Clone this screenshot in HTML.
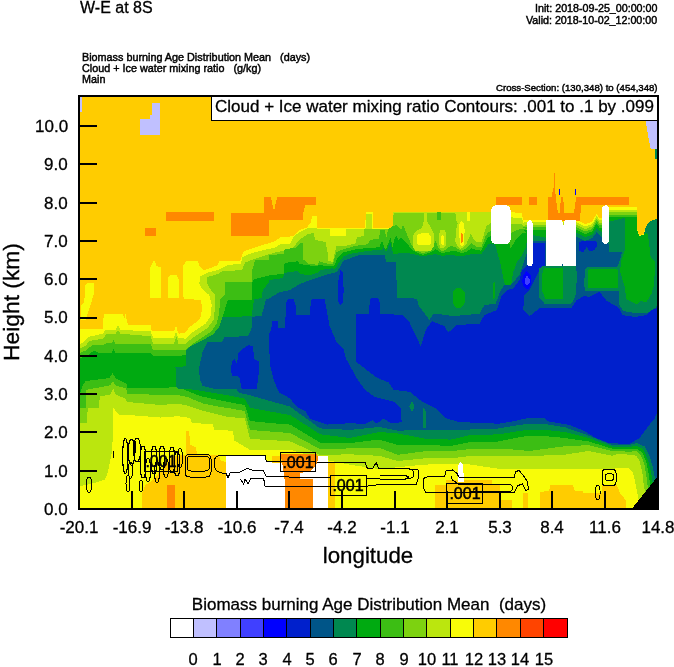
<!DOCTYPE html>
<html><head><meta charset="utf-8"><title>W-E at 8S</title>
<style>
html,body{margin:0;padding:0;background:#fff;}
body{width:674px;height:667px;position:relative;overflow:hidden;font-family:"Liberation Sans",sans-serif;color:#000;}
.t{position:absolute;white-space:pre;will-change:transform;font-family:"Liberation Sans",sans-serif;color:#000;-webkit-text-stroke:0.3px #000;}
</style></head><body>
<svg width="674" height="667" viewBox="0 0 674 667" style="position:absolute;left:0;top:0" shape-rendering="crispEdges">
<defs><clipPath id="cp"><rect x="79" y="96" width="578.6" height="413"/></clipPath></defs>
<g clip-path="url(#cp)">
<rect x="79" y="96" width="578.6" height="413" fill="#ffcc00"/>
<polygon fill="#f8fc08" points="78,328.7 103,328.7 103.7,313.7 123,313.7 124.2,320 125.5,313.7 126.7,320 128,325 150.5,325 151.7,331.2 174.2,331.2 176,325 177.5,331.2 179.2,333.7 185.5,332.5 189.2,327.5 195.5,322.5 200.5,317.5 202.2,307.5 200.5,300 184.2,298.7 183,295 183,266.2 186,261.2 198,261.2 200,267 204,270 212,267.5 218,265 219,261 240.5,260.5 242,255 244,251 255,247.5 275,241.2 280,237.5 293.7,236.2 300,230 307,227.5 311,222 312,215.5 317,215.5 317.5,227.5 365,227.5 366,212 372.5,212 373,227.5 393,227.5 393.7,212 491,211.5 510.5,212.3 522,212.8 522.8,220 577,220 585,224.3 592.2,221.6 596.7,213.5 599.4,218 602,218 609,218 609.3,207.2 637.2,207.2 637.2,228.8 639,235 643.5,234.2 645.3,228.8 648,223.4 652.5,219.8 658,219 658,510 78,510"/>
<polygon fill="#f8fc08" points="150,298 150,267.5 154.2,260 156.7,266.2 161,267 161,298"/>
<polygon fill="#f8fc08" points="167.5,298 167.5,278.7 170,275 176.7,275 179.2,280 179.2,298"/>
<polygon fill="#f8fc08" points="80.5,320 80.5,306 84.2,302.5 85.5,285 87.5,282.5 93.5,282.5 94.2,292.5 90.5,305 86.7,316 85.5,320"/>
<polygon fill="#bbe60e" points="78,345 84,342 88,337 103,333.7 105.5,330 115.5,330 118,325 120.5,330 150.5,331.2 153,337.5 174.2,337.5 176,331.2 178,337.5 185.5,338.7 190.5,333.7 198,328.7 205.5,323.7 210.5,316.2 211.7,305 209.2,295 203,290 199.2,283.7 200.5,276.2 208,272.5 218,270 228,265 240.5,263.7 242.5,257.5 250,253.7 258.7,251.2 275,247.5 281.2,243.5 290,243.8 293.5,236.7 300.7,231.4 307.8,228 311,228 317,228.5 365.5,228.5 366.5,214 372,214 372.5,228.5 392.5,228.5 393.2,213 393.6,212.2 491.2,212.2 510.3,217.3 521.8,218.1 523.6,223.1 527.2,223.1 522.8,222.3 577,222.3 585,226.6 592.2,223.9 596.7,215.8 599.4,220.3 602,220.3 609,220.3 609.3,209.5 637.2,209.5 637.2,231.1 639,237.3 643.5,236.5 645.3,231.1 648,225.7 652.5,222.1 658,221.3 660,512 640,512 638.8,500 637,491.2 634.4,478.7 632.6,471.6 629,468.4 618.3,468 612.4,468.8 588.7,468.8 565,468.8 543.6,468.8 529.3,468.8 512.7,468.8 498.5,468.8 470,464.5 451,463.7 425,464.6 397.8,467.2 379,469.2 350,464.7 320,458.8 305,454 290,449.8 270,450 250,449.8 234.5,440.5 232.7,430.7 214,430 213,424.5 192,422.7 190,418 178,416.2 160.5,417.5 128,415 119.2,415 113.3,408 112.3,450.6 108,471.4 105,479.7 90.5,484 81,486 78,488.7"/>
<polygon fill="#7dd210" points="78,349.5 85.5,346 89.2,341 103,338.7 106.7,333.7 115.5,333.7 118,330 120.5,333.7 150.5,336.2 153,343.7 174.2,343.7 176.2,336.2 178.5,343.7 185.5,343.7 191.7,338.7 200.5,332.5 208,327.5 213.5,320 215,308.5 215,295 209.7,288.2 206.7,282.2 207.5,277 218,274 222.5,271 242,270.2 245,262.5 258.7,257.5 275,252.5 282.5,251 290,254.5 292.7,248.3 298,241.2 302.5,237.6 307.8,234 314,233 315,240 325.6,242 327.4,251 328.3,261 333,262 334.5,254.5 336.3,245.6 342.8,246.5 355.4,243.6 357,237 363.6,236.2 364.3,229.5 373.2,229.2 379.2,229.2 393,229.2 393.6,212.5 491.2,212.5 510.3,224.4 521.8,224.4 524.5,226.2 527.2,226.2 522.8,224.8 577,224.8 585,229.1 592.2,226.4 596.7,218.3 599.4,222.8 602,222.8 609,222.8 609.3,212.0 637.2,212.0 637.2,233.6 639,239.8 643.5,239.0 645.3,233.6 648,228.2 652.5,224.6 658,223.8 660,512 647,512 646,494.8 644.1,487.7 642.4,473.4 639.7,461 636,455.6 629,454.7 618.3,453.8 612.4,455.8 588.7,451 565,454.6 543.6,455.5 529.3,455.8 512.7,455.8 498.5,455.8 470,456 451,458.3 425,458.3 397.8,461 379,455.8 350,454.3 320,455 305,448 290,441.4 270,440 250,439 244.7,418.2 228,417 218,414.5 203,410.7 188,405.7 178,403.7 160.5,405 127,402 126,399 115.5,394.4 113.2,388.4 110.2,394.4 99.7,396.5 99,407.7 87.7,408 87,423 78,423"/>
<polygon fill="#3cbe14" points="78,354 86.7,350 91.7,345.5 104.2,344.5 108,342.5 112,343.5 113.5,340 115,343.5 150.5,343.5 153,350 175.5,350 185.5,350 193,343.7 203,337 211.7,331.2 216.7,323.7 219.2,313 220,299.5 224.5,295 224.5,282.2 244.7,282.2 251.7,282.2 252.5,269.5 255,260.5 268.6,260.3 269.5,255 283.7,254 284.6,249 296,248 299.8,243.4 302.5,243.4 303.3,259.4 308.7,263.9 317.6,264.8 319.4,261.2 325.6,263.4 333,264 336.2,252 343,249.5 355.4,245.8 367.3,244.3 370.3,239.9 379.2,238.4 380,230 385,229.5 386,239 388,229.5 393,226 393.6,226.2 396.5,224.6 398.2,227.0 401.4,229.5 403.1,224.6 406.3,232.7 410.4,242.5 414.5,249.9 422.6,253.1 430.8,250.7 434.1,243.4 435.7,240.9 438.1,247.4 442.2,251.5 446.3,249.1 450.4,245.8 455.3,247.4 461.8,250.7 466.7,248.3 471.6,243.4 476.5,246.6 481.4,247.4 485.5,236.0 487.9,232.7 491.2,231.1 510.3,233.3 515.6,230.6 521.8,228.8 527.2,229.7 522.8,227.3 577,227.3 585,231.6 592.2,228.9 596.7,220.8 599.4,225.3 602,225.3 609,225.3 609.3,214.5 637.2,214.5 637.2,236.1 639,242.3 643.5,241.5 645.3,236.1 648,230.7 652.5,227.1 658,226.3 660,512 650,512 648.6,491.2 647.7,485.9 646,473.4 644.1,462.7 640.6,455.6 637,451.2 629,451.7 618.3,451.2 612.4,451 588.7,445.1 565,446.3 543.6,449 529.3,451 512.7,449.5 498.5,448.7 470,449 451,451.2 425,451.2 397.8,454.8 379,447.7 350,448.4 320,449.2 305,441 290,433 270,431.5 250,430 244.7,411 230.5,408.5 218,406.5 203,403.5 188,397.2 178,395 160.5,395 127.4,393.5 126,388.4 115.5,385.4 113.2,381 110,385.4 97.5,387.7 85.5,390 85.5,408 78,408"/>
<polygon fill="#00aa11" points="78,359 88,355 94.2,350.5 97.5,352.5 112,352.5 113.5,349 115,352.5 150.5,352.5 153,356.2 175.5,356.2 186.7,355 195.5,348.7 205.5,341.2 214.2,335 220.5,326.2 223,316.2 226,305 228,299.5 251.7,299.5 252.5,282.2 254,279.2 269.5,275.5 283.7,273.7 284.6,263 298,261.2 299.8,264 305,264.8 316,266.5 320,264.5 325.6,266.5 334,266 338,257 343.4,252.5 355.4,249.5 367.3,248 379.2,247.3 382.2,240.6 384.4,248 386,249.5 390.3,237.6 392.5,246.5 393.3,249.5 393.6,240.1 396.5,236.0 398.2,240.1 401.4,237.6 406.3,242.5 411.2,249.1 416.1,252.3 422.6,254.8 430.8,252.3 435.7,249.1 439.0,251.5 442.2,253.1 446.3,252.3 450.4,251.5 455.3,250.7 461.8,253.1 466.7,251.5 471.6,248.3 476.5,249.9 481.4,250.7 486.3,240.1 487.9,237.6 491.2,236.0 510.3,248.4 512.9,244.8 515.6,239.5 521.8,233.3 527.2,233.3 522.8,229.8 577,229.8 585,234.1 592.2,231.4 596.7,223.3 599.4,227.8 602,227.8 609,227.8 609.3,217.0 637.2,217.0 637.2,238.6 639,244.8 643.5,244.0 645.3,238.6 648,233.2 652.5,229.6 658,228.8 660,512 653,512 651.3,488.5 650,484.1 648.6,473.4 646,461 642.4,453 637,448.5 629,449.4 618.3,448.8 612.4,448.7 588.7,441.5 565,438 543.6,436 529.3,435.6 512.7,438.5 498.5,441.5 470,442 451,445.9 425,445 397.8,445 379,439.5 350,443.2 320,442.5 305,433.5 290,424.6 270,423 250,421 244.7,405.0 230.5,402.5 218,400.0 203,396.7 195.5,394.2 183,389.2 176.7,387 160.5,388 127.4,388.4 127.4,384 115.5,378 112.5,373.4 109.5,378 101.7,379 85.5,381 83,385 80,393 78,395"/>
<polygon fill="#008850" points="175.5,388 175.5,367.5 185.5,366.2 186,350 191,346 203,340 213.5,334 219.5,326.5 222.5,317.5 251.7,316 254,299.5 261.5,298 263,289.7 268.6,283 269.5,280 282.9,278 284.6,272.8 298,271 299.8,273.7 308.7,275.5 317.6,272.8 321,270 331.8,268.3 335,269 340,261 343.4,256.5 349.5,254 367.3,251 382.2,249.5 383.6,246.5 386,252.5 390.3,242 393.3,254 393.6,254.0 406.3,252.7 416.1,254.8 422.6,256.4 430.8,254.8 435.7,254.0 442.2,255.9 450.4,254.8 461.8,256.4 471.6,254.0 481.4,254.0 486.3,247.4 487.9,244.2 491.2,243.4 510.3,249 514,245 522,235 527,234 545.5,237.7 577,233 585,237.3 592.2,234.6 596.7,228 599.4,231 602,232 609.3,221.6 624.6,218 637.2,219 637.2,229.5 639,236 643.5,235 645.3,229.5 648,224 652.5,220.5 658,219.8 660,512 655.5,512 654,485.9 652.5,482.3 651.3,473.4 647.7,459.2 643.3,449.4 637,445.8 629,447 618.3,446.7 612.4,446.8 588.7,438 565,432 543.6,429.7 529.3,429.7 512.7,432 498.5,434.4 470,435 451,439.6 425,438.7 397.8,433.4 379,432 350,438 320,434.3 305,424.5 290,415 270,411.5 250,407.8 244.7,398.7 233,396.2 218,393.7 203,391.2 195.5,390 185.5,388.7 178,388.7 175.5,386"/>
<polygon fill="#005588" points="199.8,378.8 199,368 202.5,352 207.5,341.5 222.5,341.5 224.7,337 248,336.2 251.7,328 252.5,316.7 261.5,316 266,299.5 270,298 280,292 290,290 300,284 307.8,281 325.6,275 337,272 343.4,260.7 361,254.5 385,255 386,262 396,262 397,297.5 417,298.7 418.2,305 429.5,320 433.2,313.7 447,315 452,316.2 479.5,313.7 484.5,305 495.7,303.7 500.7,290 504.5,285 512,283.7 519.5,275 519.5,275 524,262 527,252 529,241.3 545.5,241.3 577,237 585,241 592.2,238 596.7,232 599.4,235 602,237 609.3,245 609.3,252.2 622,252.2 622,266.6 619,291 619.2,304 622.8,311 635.4,313 646.2,311 651.6,306 658,304 660,512 657,512 655.4,480.5 654,473.4 653,468 649.5,455.6 645,446.7 637,443.1 629,445 618.3,445 612.4,445.1 588.7,435.6 565,427.3 543.6,423.7 529.3,423.7 512.7,426 498.5,428.5 470,429.5 451,429.8 425,429.8 397.8,430.7 379,427 350,429.9 320,428.4 305,417.5 290,406.6 270,401 250,395.2 239,393 236.3,388.5 213.1,388.5 202.5,385.9 199.8,378.8"/>
<polygon fill="#00aa11" points="495.1,244.0 497.8,253.8 501.0,266.2 503.5,278.7 504.9,284.9 511.2,284.9 512.9,273.3 516.5,262.7 521.8,255.5 525.4,248.4 527.2,239.5 527.2,233.3 521.8,233.3 515.6,239.5 512.9,244.8 510.3,248.4 510.3,244.0"/>
<polygon fill="#0020cc" points="231.8,361.8 234.5,359.2 237.2,364.5 238,353.8 241.6,349.4 248.8,345 253.2,346.7 254,359.2 258.5,361 258.5,375.2 256.8,388.5 241.6,388.5 239.8,378.8 237.2,376 232.7,376 231,371.6"/>
<polygon fill="#0020cc" points="268.7,335 271.2,330 272,321.2 277.5,321.2 278,327.5 285,327.5 286.2,302.5 288.7,298.7 293.7,298.7 295.5,305 296.2,315 309.5,315 311.2,300 313,298.7 324.7,299.5 327,312 329.5,325.6 336.6,342.2 343.7,349.3 346,358.8 358,380.2 365,389.7 374.6,396.8 393.6,401.6 400.7,408.7 401.6,421.7 396,423.5 390,422.5 383.7,418.7 379.3,421.7 376.2,423.7 372.5,420 365,424 349.7,423.2 326.8,424.6 319.6,422.2 310,418.6 305.2,410.8 298,407.8 289.6,398.2 278.8,392.2 275.8,385 273.7,380 270,365"/>
<polygon fill="#0020cc" points="356.2,313.7 368.7,313.7 370,300 372,297.5 378,297.5 380,303 380.5,313.7 402,315 409.5,322.5 418.2,340 420.7,346.7 425.7,330 432,321.2 444.5,326.2 448.2,332.5 457,325 479.5,323.7 484.5,315 497,310 502,295 507,290 513.2,288.7 519.5,280 522,270 527,265 533,243 545,242.5 545.5,266 539.5,270 529.5,290 524.5,295 523.2,310 529.5,316.2 540,308 571.5,308 576,300.8 585,295.4 588.6,297.2 599.4,291.8 606.6,300.8 619.2,308 622.8,315.2 635.4,317 646.2,315.2 651.6,309.8 658,308 658,412 656,415 654,420 650.4,423.6 645,430.7 639.7,437.8 632.6,442.3 630,443.5 618.3,443.5 607.7,442.7 595.8,438 584,430.9 569.7,425 548.3,421.4 543.6,417.8 529.3,417.8 512.7,421.4 498.5,423.7 470,422.5 457.7,421.7 445.8,418.2 436.3,408.7 422,401.6 410.2,392 393.6,389.7 388.8,382.6 377,377.8 367.5,370.7 355.6,361.2 355.6,340"/>
<polygon fill="#0020cc" points="337.5,300 338.5,280 340.5,270 342.5,272 343.7,290 343,303 340,305"/>
<polygon fill="#c0c0ff" points="152,103 160,103 160,135 140,135 140,119 150,119 150,115 152,115"/>
<polygon fill="#c0c0ff" points="79,96 82,96 82,112 79,112"/>
<polygon fill="#c0c0ff" points="645.6,120 658,120 658,149 650.7,149 648,135"/>
<polygon fill="#008850" points="654.5,149 658,149 658,160 655.5,159"/>
<polygon fill="#ff8800" points="166,212 214,212 214,221 166,221"/>
<polygon fill="#ff8800" points="145,228 156,228 156,235.5 145,235.5"/>
<polygon fill="#ff8800" points="231.3,212.6 264.4,212.6 264.4,197.3 270.8,197.3 274,211 277.2,197.3 316,197.3 316,205 305.2,205 303.4,212.6 303.4,220 268.7,220 268.7,235.5 231.3,235.5"/>
<polygon fill="#ff8800" points="495.7,197 522,197 522,204.5 495.7,204.5"/>
<polygon fill="#ff8800" points="528.5,197 536.5,197 536.5,205 528.5,205"/>
<polygon fill="#ff8800" points="548.2,197 551.5,197 553.5,188 554.2,173 554.8,173 555.6,197 557.8,212.5 560,212.5 560.8,197 563,197 564.5,212.5 574,212.5 576.3,197 629,197 629,204.8 581,204.8 580,220.6 548.2,220.6"/>
<polygon fill="#0000ff" points="559.3,188.7 560.4,188.7 560.4,195.4 559.3,195.4"/>
<polygon fill="#0000ff" points="575.3,188.7 576.4,188.7 576.4,195.4 575.3,195.4"/>
<polygon fill="#008850" points="609.3,221.6 624.6,218.0 637.2,218.9 637.2,229.7 639.0,236.0 643.5,235.1 645.3,228.8 648.0,223.4 652.5,219.8 659.6,218.9 659.6,302.6 655.1,308.0 648.0,312.5 635.4,313.4 625.5,310.1 621.9,300.8 620.1,290.9 585.0,290.9 584.1,284.6 585.0,269.3 587.7,266.6 617.4,266.6 620.1,259.4 621.9,252.2 609.3,252.2"/>
<polygon fill="#00aa11" points="624.6,218.0 637.2,218.9 637.2,229.7 639.0,236.0 643.5,235.1 646.2,232.4 648.0,234.2 650.7,257.6 655.1,261.2 654.2,284.6 651.6,293.6 646.2,302.6 640.8,300.8 637.2,304.4 626.4,299.0 624.6,286.4 620.1,272.0 621.0,261.2 624.6,250.4"/>
<polygon fill="#00aa11" points="588.9,269.3 617.0,269.3 618.3,270.5 618.3,286.9 617.0,288.2 588.9,288.2 587.7,286.9 587.7,270.5"/>
<polygon fill="#008850" points="539.1,268.4 543.6,265.7 576.0,265.7 576.9,275.6 576.0,293.6 573.3,300.8 570.6,303.5 544.5,303.5 539.1,297.2"/>
<polygon fill="#00aa11" points="544.5,267.5 562.5,267.5 562.5,299.0 545.4,299.0 541.8,290.0 541.8,275.6"/>
<polygon fill="#0020cc" points="578.7,242.3 585.0,240.5 595.8,240.5 597.6,245.0 594.0,250.4 589.5,251.3 586.8,246.8 583.2,252.2 578.7,250.4"/>
<polygon fill="#0000ff" points="523,276 526.5,271 530.5,275 531.5,283 528,289.5 524,287 522,282"/>
<polygon fill="#4040ff" points="524.5,279 527,275.8 529.5,279 529.5,283 527,285.5 524.8,283.5"/>
<polygon fill="#bbe60e" points="424.3,212.2 426.7,212.2 427.2,221.3 430.8,227.8 434.1,234.4 434.1,245.8 430.8,250.7 416.1,251.5 412.8,246.6 412.8,236.0 416.1,231.1 421.8,227.8 423.9,221.3"/>
<polygon fill="#f8fc08" points="416.9,235.2 422.6,232.7 428.4,232.7 430.8,236.8 430.8,243.4 429.2,245.0 417.7,245.0 416.9,242.5"/>
<polygon fill="#bbe60e" points="439.0,234.4 440.6,229.5 444.7,229.5 446.3,234.4 446.3,245.0 443.9,247.8 440.6,247.8 439.0,244.2"/>
<polygon fill="#f8fc08" points="441.4,236.0 442.6,234.9 443.9,236.8 443.9,244.2 442.6,245.3 441.4,244.2"/>
<polygon fill="#bbe60e" points="455.3,212.2 491.2,212.2 491.2,223.0 486.3,226.2 483.0,237.6 481.4,242.5 474.9,241.2 470.8,233.6 466.7,243.4 464.3,246.6 460.2,249.4 456.9,245.0 455.3,241.7 456.1,229.5 457.7,223.0 456.1,219.7"/>
<polygon fill="#f8fc08" points="459.4,224.6 461.0,221.3 463.4,222.1 464.6,229.5 464.3,243.4 462.6,246.1 460.5,245.0 459.4,237.6"/>
<polygon fill="#ff8800" points="461.2,233.6 462.0,232.4 462.6,234.4 462.6,241.7 461.8,243.7 461.2,241.7"/>
<polygon fill="#f8fc08" points="467.0,212.2 470.0,212.2 470.0,220.5 468.3,221.6 467.0,220.5"/>
<polygon fill="#3cbe14" points="437.3,212.2 440.6,212.2 440.6,220.0 437.3,220.0"/>
<polygon fill="#00aa11" points="453,292 456,288.4 461,288.4 464.6,292 464.6,303 461,308 456,308 453,303"/>
<polygon fill="#00aa11" points="492.8,283 494.7,282 494.7,298 492.8,299"/>
<polygon fill="#f8fc08" points="330,228.3 346,228.3 346,236 330,236"/>
<polygon fill="#008850" points="412,401 414.5,406.5 412,412.5 409.5,406.5"/>
<polygon fill="#008850" points="422.5,409 424,407.5 425.7,412 425.7,428 422.5,428"/>
<polygon fill="#ffffff" points="506.0,205.3 507.7,205.6 509.2,206.6 510.2,208.1 510.5,209.8 510.5,239.5 510.2,241.2 509.2,242.7 507.7,243.7 506.0,244.0 495.8,244.0 494.1,243.7 492.6,242.7 491.6,241.2 491.3,239.5 491.3,209.8 491.6,208.1 492.6,206.6 494.1,205.6 495.8,205.3"/>
<polygon fill="#ffffff" points="529.9,220.3 530.9,220.5 531.8,221.1 532.4,222.0 532.6,223.0 532.6,263.5 532.4,264.5 531.8,265.4 530.9,266.0 529.9,266.2 529.9,266.2 528.9,266.0 528.0,265.4 527.4,264.5 527.2,263.5 527.2,223.0 527.4,222.0 528.0,221.1 528.9,220.5 529.9,220.3"/>
<polygon fill="#ffffff" points="546,220 562,220 563.3,226 564.7,220 575.7,220 575.7,266 563.5,266 562.5,263.5 561.5,266 545.5,266 545.5,222"/>
<polygon fill="#ffffff" points="605.7,205.3 607.1,205.6 608.2,206.4 609.0,207.5 609.3,208.9 609.3,240.4 609.0,241.8 608.2,242.9 607.1,243.7 605.7,244.0 605.6,244.0 604.2,243.7 603.1,242.9 602.3,241.8 602.0,240.4 602.0,208.9 602.3,207.5 603.1,206.4 604.2,205.6 605.6,205.3"/>
<polygon fill="#ffcc00" points="141.7,509 142.5,492.5 145.5,485 153,480 173,456 185.5,455 186.2,431 189,431 190.5,445 195.5,447.5 198,455 219,455 221,461 226,462 226,509"/>
<polygon fill="#ff8800" points="166.5,485 175.4,485 175.4,509 166.5,509"/>
<polygon fill="#ffffff" points="226,454.7 265,454.7 266,462 284.5,462 284.5,509 226,509"/>
<polygon fill="#ffcc00" points="272,455.6 282,455.6 282,462.7 272,462.7"/>
<polygon fill="#ff8800" points="281.3,453.5 316.5,453.5 318.3,458.3 316.5,464.5 311.2,470.7 299.6,473.4 300.5,478.7 313,479 313,509 284.5,509 284.5,478.7 282.7,466.3 281.3,457.4"/>
<polygon fill="#ffffff" points="318.3,455.6 328,455.6 328,509 313,509 313,479 300.5,478.7 299.6,473.4 311.2,470.7 316.5,464.5 318.3,458.3"/>
<polygon fill="#ffcc00" points="328,462.7 335.2,462.7 335.2,509 328,509"/>
<polygon fill="#ffcc00" points="434.7,509 434.7,485 446.3,485 446.3,479.6 492,479.6 492,485 499.7,485 499.7,500 512,500 512,509"/>
<polygon fill="#ffffff" points="457.9,482.3 457.9,466 460.5,461.8 463,464 464,482.3"/>
<polygon fill="#ffcc00" points="522.5,492.5 527.5,492.5 527.5,509 522.5,509"/>
<polygon fill="#ffcc00" points="539.5,509 539.5,492 549,491 550.5,485 573,485 575,491 582.7,491 583,493 602.3,493 602.3,485 616.6,485 620,493 625.5,500 626.3,509"/>
<polygon fill="#000000" points="631.7,509 658,476 658,509"/>
</g>
<g clip-path="url(#cp)" fill="none" stroke="#000" stroke-width="1" shape-rendering="crispEdges">
<ellipse cx="125.3" cy="456" rx="2.6" ry="17.5"/>
<ellipse cx="131.5" cy="452" rx="3.2" ry="13"/>
<ellipse cx="130.5" cy="470" rx="2.2" ry="8"/>
<ellipse cx="137" cy="450" rx="3.5" ry="12"/>
<ellipse cx="134.5" cy="447" rx="1.5" ry="6"/>
<ellipse cx="128" cy="483.5" rx="2" ry="8"/>
<ellipse cx="89" cy="484.7" rx="2.6" ry="7.7"/>
<path d="M113,451 V458"/>
<ellipse cx="143" cy="462" rx="3" ry="16"/>
<ellipse cx="148" cy="470" rx="2.5" ry="12"/>
<ellipse cx="154" cy="460" rx="3" ry="14"/>
<ellipse cx="157" cy="472" rx="2.5" ry="11"/>
<ellipse cx="162" cy="458" rx="3" ry="12"/>
<ellipse cx="166" cy="468" rx="2.5" ry="10"/>
<ellipse cx="172" cy="460" rx="3" ry="13"/>
<ellipse cx="177" cy="464" rx="3" ry="12"/>
<ellipse cx="180" cy="458" rx="2.5" ry="10"/>
<ellipse cx="141" cy="486" rx="1.8" ry="6"/>
<path d="M190,454 H206 Q211,454 211,459 V472 Q211,477 206,477 H190 Q185,477 185,472 V459 Q185,454 190,454 Z"/>
<path d="M191,456 H205.3 Q209.3,456 209.3,460 V467 Q209.3,471 205.3,471 H191 Q187,471 187,467 V460 Q187,456 191,456 Z"/>
<path d="M222,455 Q214,455 214,463 Q214,472 222,473 L226,473 L228,478 L230,473 L240,472"/>
<path d="M222,455 L265,455 L266.2,461.5 L365,462.5 L367.5,468.7 L372.5,468.7 L376.2,462.5 L378.7,468.7 L406.7,468.7 Q414,468.7 414,474 Q414,479 406,479 L380,479"/>
<path d="M240,472 L247,468.5 L255,471 L263,470 L266,476 L300,477.5 L330,478 L367,478 L380,479"/>
<path d="M240,478.7 L243.7,484 L245,478.7 L248,484 L250.5,478.7 L263.7,478.7 L265,486.2 L330,486.2 L366,486.2"/>
<path d="M406.7,468.7 L418,470 Q420,477 416,484.5 L400,484.5 L380,484.5 L366,486.2"/>
<path d="M380,475 L404,475 L409,477 L404,479.5 L380,479.5"/>
<path d="M423.5,481 Q423,477.5 427,477 L444.5,476.6 L446,471 L452.5,470 L457,473.5 L458.7,477 L514,477.8 L515.7,471.6 L519,470.5 L522,474 L524.5,477 L527.5,482 L528.5,489 L526,491 L522.5,484 L518,485.5 L514,492.5 L447,492.8 L427,492.8 Q423,492 423.5,481 Z"/>
<path d="M452,476 Q450.5,480 455,481.5 L458,484.2 L508,484.2 Q513.5,485 513,488.5 Q512.5,491.5 508,491.5 L470,491.5"/>
<ellipse cx="597.8" cy="492.5" rx="2.3" ry="7.5"/>
<path d="M605.5,469.5 H612.5 Q616,469.5 616,473.0 V482.0 Q616,485.5 612.5,485.5 H605.5 Q602,485.5 602,482.0 V473.0 Q602,469.5 605.5,469.5 Z"/>
<path d="M608.0,473.8 H611.0 Q613.5,473.8 613.5,476.3 V478.0 Q613.5,480.5 611.0,480.5 H608.0 Q605.5,480.5 605.5,478.0 V476.3 Q605.5,473.8 608.0,473.8 Z"/>
</g>
<rect x="144" y="451.6" width="33.5" height="19.4" fill="none" stroke="#000" stroke-width="1"/>
<rect x="280.6" y="452.6" width="35.2" height="19.2" fill="none" stroke="#000" stroke-width="1"/>
<rect x="330.5" y="475.6" width="35.7" height="19.6" fill="none" stroke="#000" stroke-width="1"/>
<rect x="446.6" y="483.6" width="36.2" height="19.7" fill="none" stroke="#000" stroke-width="1"/>
<rect x="211.5" y="96" width="446" height="24" fill="#fff" stroke="#000" stroke-width="1"/>
<rect x="79" y="96" width="578.6" height="413" fill="none" stroke="#000" stroke-width="2"/>
<line x1="79" x2="97" y1="509.0" y2="509.0" stroke="#000" stroke-width="2"/>
<line x1="79" x2="97" y1="470.7" y2="470.7" stroke="#000" stroke-width="2"/>
<line x1="79" x2="97" y1="432.4" y2="432.4" stroke="#000" stroke-width="2"/>
<line x1="79" x2="97" y1="394.1" y2="394.1" stroke="#000" stroke-width="2"/>
<line x1="79" x2="97" y1="355.8" y2="355.8" stroke="#000" stroke-width="2"/>
<line x1="79" x2="97" y1="317.5" y2="317.5" stroke="#000" stroke-width="2"/>
<line x1="79" x2="97" y1="279.2" y2="279.2" stroke="#000" stroke-width="2"/>
<line x1="79" x2="97" y1="240.9" y2="240.9" stroke="#000" stroke-width="2"/>
<line x1="79" x2="97" y1="202.6" y2="202.6" stroke="#000" stroke-width="2"/>
<line x1="79" x2="97" y1="164.3" y2="164.3" stroke="#000" stroke-width="2"/>
<line x1="79" x2="97" y1="126.0" y2="126.0" stroke="#000" stroke-width="2"/>
<line x1="79.0" x2="79.0" y1="509" y2="491" stroke="#000" stroke-width="2"/>
<line x1="131.6" x2="131.6" y1="509" y2="491" stroke="#000" stroke-width="2"/>
<line x1="184.2" x2="184.2" y1="509" y2="491" stroke="#000" stroke-width="2"/>
<line x1="236.8" x2="236.8" y1="509" y2="491" stroke="#000" stroke-width="2"/>
<line x1="289.4" x2="289.4" y1="509" y2="491" stroke="#000" stroke-width="2"/>
<line x1="342.0" x2="342.0" y1="509" y2="491" stroke="#000" stroke-width="2"/>
<line x1="394.6" x2="394.6" y1="509" y2="491" stroke="#000" stroke-width="2"/>
<line x1="447.2" x2="447.2" y1="509" y2="491" stroke="#000" stroke-width="2"/>
<line x1="499.8" x2="499.8" y1="509" y2="491" stroke="#000" stroke-width="2"/>
<line x1="552.4" x2="552.4" y1="509" y2="491" stroke="#000" stroke-width="2"/>
<line x1="605.0" x2="605.0" y1="509" y2="491" stroke="#000" stroke-width="2"/>
<line x1="657.6" x2="657.6" y1="509" y2="491" stroke="#000" stroke-width="2"/>
<rect x="170.00" y="618" width="23.35" height="19.5" fill="#ffffff" stroke="#000" stroke-width="1"/>
<rect x="193.35" y="618" width="23.35" height="19.5" fill="#c0c0ff" stroke="#000" stroke-width="1"/>
<rect x="216.71" y="618" width="23.35" height="19.5" fill="#8080ff" stroke="#000" stroke-width="1"/>
<rect x="240.06" y="618" width="23.35" height="19.5" fill="#4040ff" stroke="#000" stroke-width="1"/>
<rect x="263.41" y="618" width="23.35" height="19.5" fill="#0000ff" stroke="#000" stroke-width="1"/>
<rect x="286.76" y="618" width="23.35" height="19.5" fill="#0020cc" stroke="#000" stroke-width="1"/>
<rect x="310.12" y="618" width="23.35" height="19.5" fill="#005588" stroke="#000" stroke-width="1"/>
<rect x="333.47" y="618" width="23.35" height="19.5" fill="#008850" stroke="#000" stroke-width="1"/>
<rect x="356.82" y="618" width="23.35" height="19.5" fill="#00aa11" stroke="#000" stroke-width="1"/>
<rect x="380.18" y="618" width="23.35" height="19.5" fill="#3cbe14" stroke="#000" stroke-width="1"/>
<rect x="403.53" y="618" width="23.35" height="19.5" fill="#7dd210" stroke="#000" stroke-width="1"/>
<rect x="426.88" y="618" width="23.35" height="19.5" fill="#bbe60e" stroke="#000" stroke-width="1"/>
<rect x="450.24" y="618" width="23.35" height="19.5" fill="#f8fc08" stroke="#000" stroke-width="1"/>
<rect x="473.59" y="618" width="23.35" height="19.5" fill="#ffcc00" stroke="#000" stroke-width="1"/>
<rect x="496.94" y="618" width="23.35" height="19.5" fill="#ff8800" stroke="#000" stroke-width="1"/>
<rect x="520.29" y="618" width="23.35" height="19.5" fill="#ff4400" stroke="#000" stroke-width="1"/>
<rect x="543.65" y="618" width="23.35" height="19.5" fill="#ff0000" stroke="#000" stroke-width="1"/>
</svg>
<div class="t" style="left:79.5px;top:-1.3px;font-size:16px;line-height:18.38px;">W-E at 8S</div>
<div class="t" style="right:17px;top:1.8px;font-size:10.7px;line-height:12.29px;-webkit-text-stroke:0.45px #000;">Init: 2018-09-25_00:00:00</div>
<div class="t" style="right:17px;top:13.9px;font-size:10.7px;line-height:12.29px;-webkit-text-stroke:0.45px #000;">Valid: 2018-10-02_12:00:00</div>
<div class="t" style="left:82px;top:50.6px;font-size:10.8px;line-height:12.41px;-webkit-text-stroke:0.45px #000;">Biomass burning Age Distribution Mean   (days)</div>
<div class="t" style="left:82px;top:61.9px;font-size:10.8px;line-height:12.41px;-webkit-text-stroke:0.45px #000;">Cloud + Ice water mixing ratio   (g/kg)</div>
<div class="t" style="left:82px;top:73.0px;font-size:10.8px;line-height:12.41px;-webkit-text-stroke:0.45px #000;">Main</div>
<div class="t" style="right:16px;top:82.0px;font-size:9.65px;line-height:11.09px;-webkit-text-stroke:0.45px #000;">Cross-Section: (130,348) to (454,348)</div>
<div class="t" style="left:215px;top:96.6px;font-size:17px;line-height:19.53px;">Cloud + Ice water mixing ratio Contours: .001 to .1 by .099</div>
<div class="t" style="right:606.2px;top:499.9px;font-size:17px;line-height:19.53px;">0.0</div>
<div class="t" style="right:606.2px;top:461.6px;font-size:17px;line-height:19.53px;">1.0</div>
<div class="t" style="right:606.2px;top:423.3px;font-size:17px;line-height:19.53px;">2.0</div>
<div class="t" style="right:606.2px;top:385.0px;font-size:17px;line-height:19.53px;">3.0</div>
<div class="t" style="right:606.2px;top:346.7px;font-size:17px;line-height:19.53px;">4.0</div>
<div class="t" style="right:606.2px;top:308.4px;font-size:17px;line-height:19.53px;">5.0</div>
<div class="t" style="right:606.2px;top:270.1px;font-size:17px;line-height:19.53px;">6.0</div>
<div class="t" style="right:606.2px;top:231.8px;font-size:17px;line-height:19.53px;">7.0</div>
<div class="t" style="right:606.2px;top:193.5px;font-size:17px;line-height:19.53px;">8.0</div>
<div class="t" style="right:606.2px;top:155.2px;font-size:17px;line-height:19.53px;">9.0</div>
<div class="t" style="right:606.2px;top:116.9px;font-size:17px;line-height:19.53px;">10.0</div>
<div class="t" style="left:-121.0px;width:400px;text-align:center;top:517.9px;font-size:17px;line-height:19.53px;">-20.1</div>
<div class="t" style="left:-68.4px;width:400px;text-align:center;top:517.9px;font-size:17px;line-height:19.53px;">-16.9</div>
<div class="t" style="left:-15.800000000000011px;width:400px;text-align:center;top:517.9px;font-size:17px;line-height:19.53px;">-13.8</div>
<div class="t" style="left:36.80000000000001px;width:400px;text-align:center;top:517.9px;font-size:17px;line-height:19.53px;">-10.6</div>
<div class="t" style="left:89.39999999999998px;width:400px;text-align:center;top:517.9px;font-size:17px;line-height:19.53px;">-7.4</div>
<div class="t" style="left:142.0px;width:400px;text-align:center;top:517.9px;font-size:17px;line-height:19.53px;">-4.2</div>
<div class="t" style="left:194.60000000000002px;width:400px;text-align:center;top:517.9px;font-size:17px;line-height:19.53px;">-1.1</div>
<div class="t" style="left:247.20000000000005px;width:400px;text-align:center;top:517.9px;font-size:17px;line-height:19.53px;">2.1</div>
<div class="t" style="left:299.8px;width:400px;text-align:center;top:517.9px;font-size:17px;line-height:19.53px;">5.3</div>
<div class="t" style="left:352.4000000000001px;width:400px;text-align:center;top:517.9px;font-size:17px;line-height:19.53px;">8.4</div>
<div class="t" style="left:405.0px;width:400px;text-align:center;top:517.9px;font-size:17px;line-height:19.53px;">11.6</div>
<div class="t" style="left:457.6px;width:400px;text-align:center;top:517.9px;font-size:17px;line-height:19.53px;">14.8</div>
<div class="t" style="left:168px;width:400px;text-align:center;top:542.5px;font-size:22.3px;line-height:25.62px;">longitude</div>
<div class="t" style="left:-39.25px;width:400px;text-align:center;top:452.9px;font-size:16px;line-height:18.38px;-webkit-text-stroke:0.5px #000;">.001</div>
<div class="t" style="left:98.20000000000005px;width:400px;text-align:center;top:453.7px;font-size:16px;line-height:18.38px;-webkit-text-stroke:0.5px #000;">.001</div>
<div class="t" style="left:148.35000000000002px;width:400px;text-align:center;top:477.1px;font-size:16px;line-height:18.38px;-webkit-text-stroke:0.5px #000;">.001</div>
<div class="t" style="left:264.70000000000005px;width:400px;text-align:center;top:485.2px;font-size:16px;line-height:18.38px;-webkit-text-stroke:0.5px #000;">.001</div>
<div class="t" style="left:168.5px;width:400px;text-align:center;top:595.1px;font-size:17px;line-height:19.53px;">Biomass burning Age Distribution Mean  (days)</div>
<div class="t" style="left:-6.64705882352942px;width:400px;text-align:center;top:650.1px;font-size:16.5px;line-height:18.96px;">0</div>
<div class="t" style="left:16.70588235294116px;width:400px;text-align:center;top:650.1px;font-size:16.5px;line-height:18.96px;">1</div>
<div class="t" style="left:40.05882352941177px;width:400px;text-align:center;top:650.1px;font-size:16.5px;line-height:18.96px;">2</div>
<div class="t" style="left:63.41176470588232px;width:400px;text-align:center;top:650.1px;font-size:16.5px;line-height:18.96px;">3</div>
<div class="t" style="left:86.76470588235293px;width:400px;text-align:center;top:650.1px;font-size:16.5px;line-height:18.96px;">4</div>
<div class="t" style="left:110.11764705882354px;width:400px;text-align:center;top:650.1px;font-size:16.5px;line-height:18.96px;">5</div>
<div class="t" style="left:133.47058823529414px;width:400px;text-align:center;top:650.1px;font-size:16.5px;line-height:18.96px;">6</div>
<div class="t" style="left:156.8235294117647px;width:400px;text-align:center;top:650.1px;font-size:16.5px;line-height:18.96px;">7</div>
<div class="t" style="left:180.17647058823525px;width:400px;text-align:center;top:650.1px;font-size:16.5px;line-height:18.96px;">8</div>
<div class="t" style="left:203.52941176470586px;width:400px;text-align:center;top:650.1px;font-size:16.5px;line-height:18.96px;">9</div>
<div class="t" style="left:226.88235294117646px;width:400px;text-align:center;top:650.1px;font-size:16.5px;line-height:18.96px;">10</div>
<div class="t" style="left:250.23529411764707px;width:400px;text-align:center;top:650.1px;font-size:16.5px;line-height:18.96px;">11</div>
<div class="t" style="left:273.5882352941176px;width:400px;text-align:center;top:650.1px;font-size:16.5px;line-height:18.96px;">12</div>
<div class="t" style="left:296.94117647058823px;width:400px;text-align:center;top:650.1px;font-size:16.5px;line-height:18.96px;">13</div>
<div class="t" style="left:320.2941176470588px;width:400px;text-align:center;top:650.1px;font-size:16.5px;line-height:18.96px;">14</div>
<div class="t" style="left:343.6470588235294px;width:400px;text-align:center;top:650.1px;font-size:16.5px;line-height:18.96px;">15</div>
<div class="t" style="left:-104px;top:287.5px;width:230px;height:28px;text-align:center;font-size:22.8px;line-height:28px;transform:rotate(-90deg);transform-origin:50% 50%;">Height (km)</div>
</body></html>
